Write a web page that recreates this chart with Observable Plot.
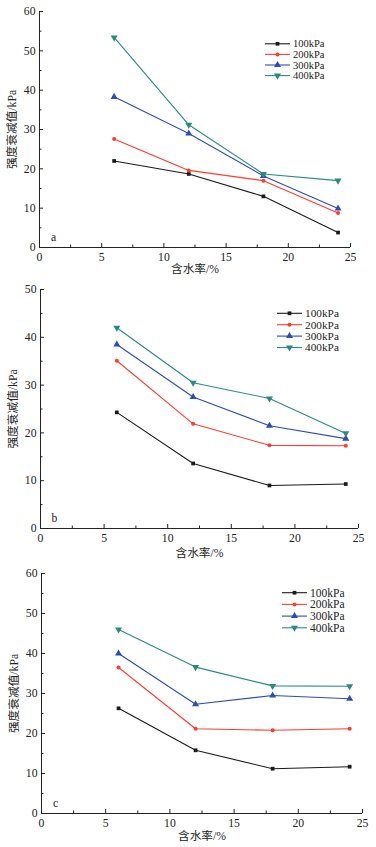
<!DOCTYPE html>
<html>
<head>
<meta charset="utf-8">
<script src="https://cdn.jsdelivr.net/npm/d3@7"></script>
<script src="https://cdn.jsdelivr.net/npm/@observablehq/plot@0.6"></script>
<style>
  html, body { margin: 0; padding: 0; background: #fff; }
  #wrap { position: relative; width: 376px; height: 847px; overflow: hidden; }
  .panel { position: absolute; left: 0; }
  .legend { position: absolute; left: 0; pointer-events: none; }
</style>
</head>
<body>
<div id="wrap"></div>
<script>
// ---- data ----
const moisture = [6, 12, 18, 24];
const pressures = ["100kPa", "200kPa", "300kPa", "400kPa"];
const seriesColors = ["#1a1a1a", "#ff3a2e", "#2b4db5", "#2a8a82"];
const xTicks = [0, 5, 10, 15, 20, 25];
const xMinorTicks = [2.5, 7.5, 12.5, 17.5, 22.5];

// panel a
const a100 = [22.0, 18.7, 13.0, 3.8];
const a200 = [27.6, 19.6, 17.0, 8.8];
const a300 = [38.3, 29.0, 18.2, 9.9];
const a400 = [53.4, 31.2, 18.7, 17.0];
// panel b
const b100 = [24.3, 13.6, 9.0, 9.3];
const b200 = [35.1, 21.9, 17.4, 17.3];
const b300 = [38.5, 27.5, 21.5, 18.8];
const b400 = [42.0, 30.5, 27.2, 19.9];
// panel c
const c100 = [26.3, 15.8, 11.2, 11.7];
const c200 = [36.5, 21.2, 20.8, 21.2];
const c300 = [40.0, 27.3, 29.5, 28.7];
const c400 = [46.0, 36.6, 31.9, 31.8];

const panelLabels = ["a", "b", "c"];
const yMax = [60, 50, 60];
const yTicksA = [0, 10, 20, 30, 40, 50, 60];
const yMinorA = [5, 15, 25, 35, 45, 55];
const yTicksB = [0, 10, 20, 30, 40, 50];
const yMinorB = [5, 15, 25, 35, 45];

const xTitle = "含水率/%";
const yTitle = "强度衰减值/kPa";

const panelSeries = [
  [a100, a200, a300, a400],
  [b100, b200, b300, b400],
  [c100, c200, c300, c400]
];

// ---- layout ----
const layouts = [
  {top: 0,   height: 280, mt: 11, mb: 33, ml: 39, mr: 26, xlo: 25, legX: 265, legY: 43.8, legDy: 10.6, legFs: 10.5},
  {top: 280, height: 282, mt: 9,  mb: 34, ml: 40, mr: 18, xlo: 28, legX: 277, legY: 33.3, legDy: 11.4, legFs: 11.3},
  {top: 565, height: 282, mt: 8,  mb: 34, ml: 41, mr: 14, xlo: 26, legX: 282, legY: 27.7, legDy: 11.7, legFs: 11.5}
];

// down-pointing triangle symbol
const triangleDown = {
  draw(context, size) {
    const s3 = Math.sqrt(3);
    const y = -Math.sqrt(size / (s3 * 3));
    context.moveTo(0, -y * 2);
    context.lineTo(-s3 * y, y);
    context.lineTo(s3 * y, y);
    context.closePath();
  }
};
const symbols = ["square", "circle", "triangle", triangleDown];
const symbolR = [2.1, 2.0, 2.6, 2.6];
const d3Symbols = [d3.symbolSquare, d3.symbolCircle, d3.symbolTriangle, triangleDown];

const font = "'Liberation Serif', 'Times New Roman', 'Noto Sans CJK SC', serif";
const wrap = document.getElementById("wrap");

panelSeries.forEach((series, p) => {
  const L = layouts[p];
  const rows = [];
  series.forEach((vals, s) => {
    vals.forEach((v, i) => rows.push({x: moisture[i], y: v, s: pressures[s], si: s}));
  });
  const yT = yMax[p] === 60 ? yTicksA : yTicksB;
  const yM = yMax[p] === 60 ? yMinorA : yMinorB;

  const marks = [];
  series.forEach((vals, s) => {
    const d = rows.filter(r => r.si === s);
    marks.push(Plot.line(d, {x: "x", y: "y", stroke: seriesColors[s], strokeWidth: 1.1}));
  });
  series.forEach((vals, s) => {
    const d = rows.filter(r => r.si === s);
    marks.push(Plot.dot(d, {x: "x", y: "y", symbol: () => symbols[s], r: symbolR[s], fill: seriesColors[s], stroke: "none"}));
  });

  marks.push(
    Plot.ruleX([0], {stroke: "#222", strokeWidth: 1}),
    Plot.ruleY([0], {stroke: "#222", strokeWidth: 1}),
    Plot.axisX({ticks: xTicks, tickSize: -4, text: null, label: null, stroke: "#222"}),
    Plot.axisX({ticks: xMinorTicks, tickSize: -2.5, text: null, label: null, stroke: "#222"}),
    Plot.axisX({ticks: xTicks, tickSize: 0, tickPadding: 5, tickFormat: d => d, fontSize: 11.7, fill: "#222",
      label: xTitle, labelAnchor: "center", labelArrow: "none", labelOffset: L.xlo}),
    Plot.axisY({ticks: yT, tickSize: -4, text: null, label: null, stroke: "#222"}),
    Plot.axisY({ticks: yM, tickSize: -2.5, text: null, label: null, stroke: "#222"}),
    Plot.axisY({ticks: yT, tickSize: 0, tickPadding: 4, tickFormat: d => d, fontSize: 11.7, fill: "#222",
      label: yTitle, labelAnchor: "center", labelArrow: "none", labelOffset: 32}),
    Plot.text([panelLabels[p]], {text: d => d, frameAnchor: "bottom-left", textAnchor: "middle", lineAnchor: "middle",
      dx: 14, dy: -10, fontSize: 11.7, fill: "#222"})
  );

  const chart = Plot.plot({
    width: 376,
    height: L.height,
    marginTop: L.mt,
    marginBottom: L.mb,
    marginLeft: L.ml,
    marginRight: L.mr,
    style: {fontFamily: font, fontSize: "11.7px", color: "#222", background: "transparent"},
    x: {domain: [0, 25]},
    y: {domain: [0, yMax[p]]},
    marks
  });
  chart.classList.add("panel");
  chart.style.top = L.top + "px";
  wrap.appendChild(chart);

  // legend overlay
  const svg = d3.create("svg")
    .attr("class", "legend")
    .attr("width", 376).attr("height", L.height)
    .style("top", L.top + "px");
  pressures.forEach((name, s) => {
    const y = L.legY + s * L.legDy;
    svg.append("line").attr("x1", L.legX).attr("x2", L.legX + 25).attr("y1", y).attr("y2", y)
      .attr("stroke", seriesColors[s]).attr("stroke-width", 1.1);
    svg.append("path").attr("transform", `translate(${L.legX + 12.5},${y})`)
      .attr("d", d3.symbol(d3Symbols[s], Math.PI * symbolR[s] * symbolR[s])())
      .attr("fill", seriesColors[s]);
    svg.append("text").attr("x", L.legX + 28).attr("y", y).attr("dy", "0.35em")
      .attr("font-family", font).attr("font-size", L.legFs).attr("fill", "#222").text(name);
  });
  wrap.appendChild(svg.node());
});
</script>
</body>
</html>
